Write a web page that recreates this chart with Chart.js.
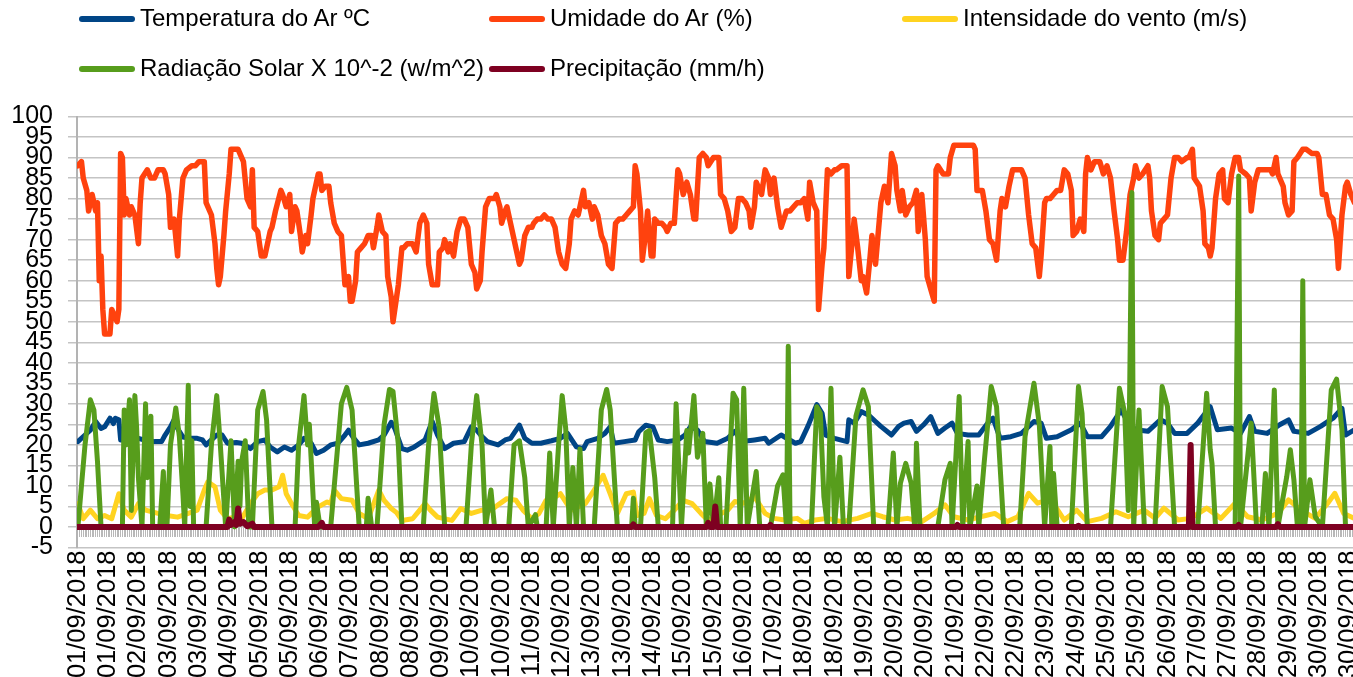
<!DOCTYPE html>
<html>
<head>
<meta charset="utf-8">
<title>Dados meteorológicos - setembro 2018</title>
<script src="https://cdn.jsdelivr.net/npm/chart.js@4.4.1/dist/chart.umd.min.js"></script>
<style>
  html, body { margin: 0; padding: 0; background: #fff; overflow: hidden; }
  #wrap { position: relative; width: 1353px; height: 677px; }
  #chart { position: absolute; left: 0; top: 0; }
  .item { position: absolute; height: 28px; line-height: 28px; white-space: nowrap;
          font: 24px "Liberation Sans", Arial, sans-serif; color: #000; }
  .item i { display: inline-block; width: 56px; height: 6px; border-radius: 3px;
            vertical-align: middle; margin-right: 5px; position: relative; top: -1px; }
</style>
</head>
<body>
<div id="wrap">
  <canvas id="chart" width="1353" height="677"></canvas>
  <div id="legend"></div>
</div>
<script>
// hourly readings, Sept 2018 (hour 0 = 01/09 00h); only turning points kept
const humidityHours = [
  0,2,3,5,6,8,10,11,12,13, 14,15,18,19,20,22,23,24,25,26, 27,29,30,32,34,35,36,39,41,43,
  45,48,49,51,52,54,56,57,59,61, 64,66,68,71,72,75,77,78,79,80, 82,83,85,86,90,92,93,95,97,98,
  99,101,103,105,108,109,111,114,115,117, 119,120,122,123,125,126,128,129,131,132,
  135,136,137,139,141,142,144,146,148,150, 152,153,154,156,157,159,161,163,165,166,
  168,169,171,173,174,176,177,179,180,182, 183,185,188,190,192,194,196,197,199,202,
  203,205,206,208,209,211,213,215,217,219, 221,223,224,226,227,229,231,234,235,237,
  238,240,241,243,246,248,249,251,253,255, 256,258,260,262,264,266,268,270,272,274,
  276,277,279,281,284,285,287,289,290,292, 294,296,298,300,302,304,306,308,310,312,
  313,314,316,317,319,320,322,323,324,326, 328,330,331,333,335,337,338,340,342,344,
  346,347,349,351,353,354,357,360,361,363, 365,367,369,371,373,375,377,378,380,381,
  384,386,388,389,391,393,395,398,400,402, 404,406,408,410,411,413,415,416,418,419,
  421,423,425,426,429,432,433,435,436,438, 440,441,443,445,446,448,449,451,453,455,
  457,459,460,462,463,465,467,469,471,472, 474,476,477,479,481,482,483,486,489,490,
  492,503,504,505,508,510,512,514,516,518, 519,521,523,525,528,530,532,534,536,538,
  540,541,543,544,546,548,550,552,554,556, 558,559,561,563,565,566,567,569,571,574,
  576,578,580,582,584,585,587,589,591,593, 594,596,598,601,602,603,605,607,608,610,
  612,614,616,618,620,623,624,626,627,630, 632,633,635,636,637,639,641,643,644,646,
  648,650,652,653,656,658,659,661,663,666, 670,671,673,674,677,678,680,682,683,685,
  688,690,693,696,697,699,701,703,705,707, 708,710,712,713,715,717
];
const humidity = [
  88,89,85,82,77,81,77,79,60,66, 53,47,47,53,52,50,53,91,90,76, 80,76,78,76,69,79,85,87,85,85,
  87,87,86,81,73,75,66,75,85,87, 88,88,89,89,79,76,69,63,59,61, 71,77,86,92,92,90,89,80,78,87,
  73,72,66,66,72,73,77,82,81,78, 81,72,78,77,71,67,71,69,76,80,
  86,86,82,83,83,79,74,72,71,59, 61,55,55,60,67,68,69,71,71,68,
  73,76,72,71,61,56,50,56,59,68, 68,69,69,67,74,76,74,64,59,59,
  67,68,70,67,69,66,72,75,75,73, 64,62,58,60,67,78,80,80,81,78,
  74,77,78,74,68,64,65,71,73,73, 74,75,75,76,75,75,73,67,64,63,
  69,75,77,76,82,78,79,75,78,76, 71,69,64,63,74,75,75,76,77,78,
  88,86,77,65,72,77,66,66,75,74, 74,73,72,74,74,87,86,81,84,81,
  75,75,90,91,90,88,90,90,81,80, 77,72,73,80,80,79,77,73,78,84,
  81,87,85,81,85,78,73,77,77,78, 79,79,80,75,84,79,77,53,64,68,
  87,86,87,87,88,88,61,70,75,68, 60,61,57,66,71,64,69,79,83,79,
  91,88,82,77,82,76,78,79,82,72, 81,70,61,58,55,87,88,86,86,90,
  93,93,92,82,82,77,70,69,65,77, 80,78,83,87,87,87,85,76,69,68,
  61,66,79,80,80,81,82,82,87,86, 82,71,72,75,72,86,90,87,89,89,
  86,88,85,77,70,65,65,72,81,85, 88,85,86,88,85,77,71,70,74,75,
  76,85,90,90,89,90,90,92,85,83, 77,69,68,66,68,80,86,87,80,79,
  86,90,90,87,86,85,77,84,87,87, 87,86,90,86,83,79,76,77,89,90,
  92,92,91,91,90,81,81,76,75,70, 63,76,83,84,81,79
];

const temperatureHours = [
  0,4,7,10,13,15,18,20,21,23, 24,28,34,37,43,47,49,52,54,56, 59,63,67,70,72,75,78,81,84,89,
  92,97,101,105,108,112,116,120,124,127, 131,134,138,142,146,150,152,155,158,163,
  169,172,176,178,182,185,189,195,199,202, 206,211,217,221,224,227,230,236,240,243,
  248,251,255,260,266,271,275,280,284,286, 292,296,299,301,307,313,315,319,323,326,
  331,337,341,344,348,352,359,365,369,373, 380,386,388,395,403,406,410,415,418,420,
  425,432,433,436,440,444,448,451,457,461, 464,468,471,475,479,483,487,491,494,500,
  506,511,514,518,524,530,537,541,544,550, 558,563,567,575,580,586,590,594,601,608,
  612,616,623,629,636,640,648,653,658,661, 668,675,680,683,691,698,705,710,712,717
];
const temperature = [
  20.8,22.4,23.6,25.7,24,24.4,26.5,25.2,26.5,26.1, 21.2,21.2,21.6,21.2,20.8,20.8,22.4,24.4,26.1,24,
  21.9,21.6,21.6,21.2,20,21.2,22.4,22.4,20.4,20.6, 20.4,19.1,20.8,21.2,19.5,18.3,19.5,18.7,20,21.6,
  20.4,17.9,18.7,20,20.4,22.4,23.6,21.6,20,20.4, 21.2,22.4,25.5,24,19.1,18.7,19.5,21.2,25.7,22.4,
  19.1,20.4,20.8,24.4,23.6,22,20.8,20,21.2,21.6, 24.8,21.6,20.4,20.4,21,21.6,22.8,19.5,19.1,20.8,
  21.6,22.8,24.4,20.4,20.8,21.2,23.2,24.8,24.4,21.2, 20.8,21.2,22.4,24.4,23.6,20.8,20.4,21.6,23.3,20.8,
  21.2,21.6,20.4,22.4,20.4,20.8,24.5,29.8,27.7,22.4, 21.6,20.8,26.1,25.3,28.1,27.3,25.7,24.5,22.4,24.5,
  25.3,25.7,23.3,24.9,26.9,22.8,24.1,25.3,22.8,22.4, 22.4,25.3,26.5,21.6,22,22.8,25.7,25.3,21.6,22,
  23.7,25.3,22,22,24.5,28.5,25.3,23.7,23.3,26.1, 25.3,22.8,22.8,25.3,29.3,23.7,24.1,22.8,26.9,23.3,
  22.8,24.9,26.1,23.3,22.8,24.5,26.5,28.9,22.4,23.7
];

const windHours = [
  0,3,7,11,15,19,23,26,30,34, 38,45,50,56,62,67,71,73,77,80, 84,88,92,97,101,105,109,113,115,117,
  120,124,129,135,140,142,144,148,154,158, 163,169,172,176,179,182,188,192,195,198,
  202,210,215,221,227,232,237,241,246,250, 255,259,263,268,271,277,285,290,295,299,
  303,308,312,314,318,321,325,330,335,340, 345,350,354,358,365,369,374,380,386,391,
  397,404,408,414,421,429,438,446,452,459, 466,474,481,487,492,500,507,515,522,528,
  534,539,545,549,554,561,567,575,583,590, 599,605,610,618,625,634,642,650,657,665,
  674,680,687,695,702,706,711,717
];
const wind = [
  5.7,2,4.1,2,2.8,2,8.1,4.1,2.4,5.7, 4.1,3.3,2.8,2.4,3.3,4.1,9,11,9.8,4.1, 2,2.4,2,5.7,8.1,9,9,9.8,12.6,8.1,
  5.7,2.8,2.4,4.9,6.1,5.7,9,6.9,6.5,3.3, 2,9,6.5,4.5,3.5,1.6,2,4.1,5.7,4.1,
  2.4,1.6,4.5,3.3,4.1,4.1,5.7,6.9,6.5,4.1, 2,3.3,6.5,7.3,8.1,4.1,5.7,9,12.6,8.1,
  3.3,8.1,8.5,2.8,3.3,6.9,2.8,2,4.1,6.5, 5.7,3.3,1.6,2.5,4.1,6.2,5.8,7.4,3.3,2.1,
  1.7,2.1,0.9,1.7,2.1,1.3,2.1,3.3,2.5,1.7, 2.1,1.3,3.3,5.4,2.5,1.7,2.5,3.3,1.3,2.5,
  8.2,5.8,6.6,5,1.7,4.1,1.3,2.1,3.7,2.5, 4.1,2.1,4.6,1.7,2.1,4.6,2.1,5.8,2.5,1.7,
  3.3,6.6,4.1,2.1,5.8,8.2,3.3,2.1
];

const radiationHours = [
  0,4,7,9,11,13,25,26,27,29, 30,32,33,34,36,38,39,41,42,46, 48,49,50,52,55,57,59,60,62,63,
  64,65,72,75,78,80,83,86,88,90, 91,92,94,96,98,101,104,106,109,122,
  124,127,129,130,133,134,136,142,148,151, 154,158,162,163,165,168,172,175,177,180,
  182,194,195,197,200,203,206,218,221,224, 227,229,232,234,242,245,248,251,253,257,
  258,263,265,267,270,272,274,276,278,280, 282,284,290,294,297,299,303,311,312,313,
  316,319,321,324,326,334,336,339,342,343, 346,348,351,353,355,357,360,361,364,368,
  370,372,374,376,381,383,389,393,396,398, 399,400,412,415,417,419,421,423,425,428,
  430,433,437,441,444,447,455,458,460,462, 465,468,470,471,473,483,487,490,491,495,
  497,500,501,505,506,509,513,516,520,529, 532,537,540,543,546,547,548,550,558,562,
  564,567,580,585,588,590,592,593,596,599, 605,609,612,616,629,634,636,637,639,650,
  652,653,659,662,665,667,669,672,674,676, 679,681,683,685,687,688,689,692,695,699,
  704,707,710,712,717
];
const radiation = [
  0,20,31,28.5,16,0,0,28.5,20,31, 4,32,24,12,0,30,12,27,0,0, 13.5,0,0,20,29,22,8,0,34.5,5,
  21,0,0,20,32,20,0,21,0,16, 5,16,21,0,0,28.5,33,26,0,0,
  20,32,20,25,0,6,0,0,30,34, 28.5,0,0,7,0,0,25,33.5,33,20,
  0,0,7,20,32.5,24,0,0,20,32, 20,0,9,0,0,20,21,12,0,3,
  0,0,18,0,20,32,24,0,14.5,0, 19,0,0,28.5,33.5,28.5,0,0,7,0,
  0,23,23.5,12,0,0,30,0,23.5,18, 32,17,22.8,0,10.5,0,12,0,0,32.6,
  31,0,33.8,0,13.5,0,0,10,12.7,0, 44,0,0,29.3,27.7,7.4,0,33.8,0,17,
  0,0,27,33.4,29.3,0,0,18,0,10.7, 15.5,10.7,0,20.4,0,0,11.5,15.5,0,31.8,
  0,20.8,0,10,0,15.5,34.2,29.3,0,0, 22,35,25,0,19.6,0,13,0,0,34.2,
  27.7,0,0,33.8,27.7,4,81.5,0,28.5,0, 0,34.2,29.3,0,0,32.6,18.8,15.5,0,0,
  85.5,0,25.3,0,0,13,0,33.4,0,5, 12.3,18.8,11.5,0,0,60,0,11.5,2.5,0,
  33.4,36,23.7,0,0
];

const rainHours = [
  0,84,85,86,88,89,90,91,93,95, 98,99,135,137,138,311,312,313,353,354,
  355,357,358,359,388,389,390,493,494,495, 561,562,563,624,625,626,651,652,653,673,
  674,675,717
];
const rain = [
  0,0,1.8,0.5,1.2,0.5,4.5,0.8,1.2,0.2, 0.8,0,0,1,0,0,0.6,0,0,1,
  0,0,5,0,0,0.5,0,0,0.5,0, 0,0.3,0,0,20,0,0,0.5,0,0,
  0.7,0,0
];

// one label every 17 hourly categories, as the spreadsheet drew them
const labelStep = 17;
const dateLabels = [
  '01/09/2018','01/09/2018','02/09/2018','03/09/2018','03/09/2018','04/09/2018','05/09/2018',
  '05/09/2018','06/09/2018','07/09/2018','08/09/2018','08/09/2018','09/09/2018','10/09/2018',
  '10/09/2018','11/09/2018','12/09/2018','13/09/2018','13/09/2018','14/09/2018','15/09/2018',
  '15/09/2018','16/09/2018','17/09/2018','18/09/2018','18/09/2018','19/09/2018','20/09/2018',
  '20/09/2018','21/09/2018','22/09/2018','22/09/2018','23/09/2018','24/09/2018','25/09/2018',
  '25/09/2018','26/09/2018','27/09/2018','27/09/2018','28/09/2018','29/09/2018','30/09/2018',
  '30/09/2018'
];
const yTicks = { min: -5, max: 100, step: 5 };

const series = [
  { label: 'Temperatura do Ar ºC', hours: temperatureHours, values: temperature, color: '#004586', width: 5 },
  { label: 'Umidade do Ar (%)', hours: humidityHours, values: humidity, color: '#ff420e', width: 5.5 },
  { label: 'Intensidade do vento (m/s)', hours: windHours, values: wind, color: '#ffd320', width: 5 },
  { label: 'Radiação Solar X 10^-2 (w/m^2)', hours: radiationHours, values: radiation, color: '#579d1c', width: 5 },
  { label: 'Precipitação (mm/h)', hours: rainHours, values: rain, color: '#7e0021', width: 6 },
];

// legend laid out in fixed columns like the original
const legendSpots = [[79, 4], [489, 4], [902, 4], [79, 54], [489, 54]];
const legend = document.getElementById('legend');
series.forEach((s, i) => {
  const el = document.createElement('div');
  el.className = 'item';
  el.style.left = legendSpots[i][0] + 'px';
  el.style.top = legendSpots[i][1] + 'px';
  const mark = document.createElement('i');
  mark.style.background = s.color;
  el.appendChild(mark);
  el.appendChild(document.createTextNode(s.label));
  legend.appendChild(el);
});

const font = 'Liberation Sans, Arial, sans-serif';
const xMin = -0.5;
const xMax = 716.2;

new Chart(document.getElementById('chart'), {
  type: 'line',
  data: {
    datasets: series.map((s, i) => ({
      label: s.label,
      data: s.hours.map((h, j) => ({ x: h, y: s.values[j] })),
      borderColor: s.color,
      backgroundColor: s.color,
      borderWidth: s.width,
      xAxisID: 'x',
      order: series.length - i,
    })),
  },
  options: {
    responsive: false,
    animation: false,
    layout: { padding: { top: 116.5, right: 0, bottom: 0, left: 0 } },
    elements: {
      point: { radius: 0, hoverRadius: 0 },
      line: { tension: 0, borderJoinStyle: 'round', borderCapStyle: 'round' },
    },
    plugins: {
      legend: { display: false },
      tooltip: { enabled: false },
    },
    scales: {
      x: {
        type: 'linear',
        min: xMin,
        max: xMax,
        afterFit(scale) {
          scale.height = 129.5;
          scale.paddingLeft = 0;
          scale.paddingRight = 0;
        },
        grid: { display: false, drawTicks: false },
        border: { display: false },
        ticks: {
          stepSize: labelStep,
          includeBounds: false,
          autoSkip: false,
          minRotation: 90,
          maxRotation: 90,
          padding: 3,
          color: '#000',
          font: { family: font, size: 25.5 },
          callback(value) {
            return dateLabels[Math.round(value / labelStep)];
          },
        },
      },
      hours: {
        type: 'linear',
        axis: 'x',
        position: { y: 0 },
        min: xMin,
        max: xMax,
        grid: { drawOnChartArea: false, drawTicks: true, tickLength: 10, color: '#b8b8b8', lineWidth: 1 },
        border: { display: false },
        ticks: { display: false, stepSize: 1, includeBounds: false },
      },
      y: {
        min: yTicks.min,
        max: yTicks.max,
        afterFit(scale) {
          scale.width = 77;
        },
        grid: { color: '#c4c4c4', lineWidth: 1.5, tickLength: 9 },
        border: { color: '#b3b3b3', width: 2 },
        ticks: {
          stepSize: yTicks.step,
          autoSkip: false,
          padding: 15,
          color: '#000',
          font: { family: font, size: 25 },
        },
      },
    },
  },
});
</script>
</body>
</html>
